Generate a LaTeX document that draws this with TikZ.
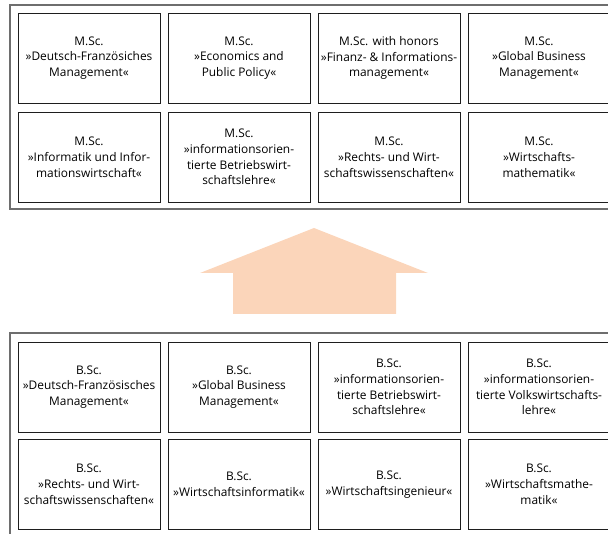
\documentclass[tikz,border=0pt]{standalone}
\usepackage{fontspec}
\setmainfont{Open Sans}
\usepackage{xcolor}
\definecolor{framegray}{RGB}{110, 110, 110}
\definecolor{boxline}{RGB}{30, 30, 30}
\definecolor{peach}{RGB}{251, 213, 186}
\usepackage{tikz}

\tikzset{
  course/.style={draw=boxline, line width=0.9pt, minimum width=142pt, minimum height=90pt,
    inner sep=0pt, align=center, font=\fontsize{11.9}{15.8}\selectfont},
  group/.style={draw=framegray, line width=1.6pt}
}

\begin{document}
\begin{tikzpicture}[x=1pt, y=-1pt]
      \useasboundingbox (0,0) rectangle (608,534);

      \coordinate (MTL) at (10, 5);
      \coordinate (MBR) at (640, 209);
      \coordinate (BTL) at (10, 333);
      \coordinate (BBR) at (640, 560);

      \draw[group] (MTL) rectangle (MBR);
      \draw[group] (BTL) rectangle (BBR);

      \node[course] (m1) at (89, 58) {M.Sc.\\»Deutsch-Französiches\\Management«};
      \node[course] (m2) at (239, 58) {M.Sc.\\»Economics and\\Public Policy«};
      \node[course] (m3) at (389, 58) {M.Sc. with honors\\»Finanz- \& Informations-\\management«};
      \node[course] (m4) at (539, 58) {M.Sc.\\»Global Business\\Management«};
      \node[course] (m5) at (89, 157) {M.Sc.\\»Informatik und Infor-\\mationswirtschaft«};
      \node[course] (m6) at (239, 157) {M.Sc.\\»informationsorien-\\tierte Betriebswirt-\\schaftslehre«};
      \node[course] (m7) at (389, 157) {M.Sc.\\»Rechts- und Wirt-\\schaftswissenschaften«};
      \node[course] (m8) at (539, 157) {M.Sc.\\»Wirtschafts-\\mathematik«};

      \node[course] (b1) at (89, 387) {B.Sc.\\»Deutsch-Französisches\\Management«};
      \node[course] (b2) at (239, 387) {B.Sc.\\»Global Business\\Management«};
      \node[course] (b3) at (389, 387) {B.Sc.\\»informationsorien-\\tierte Betriebswirt-\\schaftslehre«};
      \node[course] (b4) at (539, 387) {B.Sc.\\»informationsorien-\\tierte Volkswirtschafts-\\lehre«};
      \node[course] (b5) at (89, 484.5) {B.Sc.\\»Rechts- und Wirt-\\schaftswissenschaften«};
      \node[course] (b6) at (239, 484.5) {B.Sc.\\»Wirtschaftsinformatik«};
      \node[course] (b7) at (389, 484.5) {B.Sc.\\»Wirtschaftsingenieur«};
      \node[course] (b8) at (539, 484.5) {B.Sc.\\»Wirtschaftsmathe-\\matik«};

      \fill[peach] (233,314) -- (233,273) -- (200,273) -- (314,228)
        -- (428,273) -- (396,273) -- (396,314) -- cycle;
    \end{tikzpicture}
\end{document}
